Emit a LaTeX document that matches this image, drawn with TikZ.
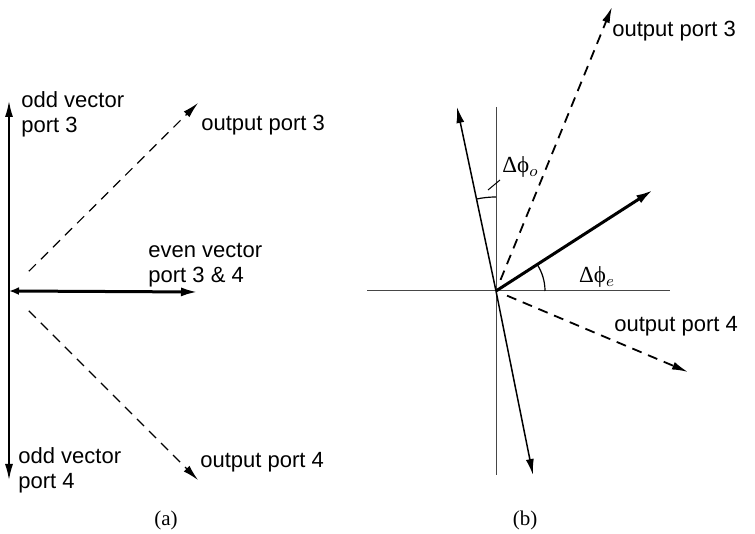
\documentclass[tikz,border=0pt]{standalone}
\usepackage{amsmath}
\usepackage{fontspec}
\setmainfont{Liberation Serif}
\setsansfont{Liberation Sans}
\usepackage{tikz}
\usetikzlibrary{arrows.meta,positioning,calc}
\definecolor{axisgray}{RGB}{70,70,70}

\begin{document}
\begin{tikzpicture}[
    x=0.5pt, y=0.5pt,
    vec/.style={line width=0.75pt, -{Latex[length=8pt,width=4pt]}},
    evenvec/.style={line width=1.5pt, -{Latex[length=8.5pt,width=4.5pt]}},
    outvec/.style={line width=0.6pt, dash pattern=on 5pt off 3.5pt, -{Latex[length=8pt,width=4pt]}},
    outvecb/.style={line width=0.9pt, dash pattern=on 5pt off 3.5pt, -{Latex[length=8pt,width=4pt]}},
    axis/.style={line width=0.5pt, draw=axisgray},
    lbl/.style={font=\sffamily\fontsize{11}{12.5}\selectfont, align=left, inner sep=0pt},
    anglbl/.style={font=\rmfamily\fontsize{11.5}{13}\selectfont, inner sep=1pt},
    captxt/.style={font=\fontsize{10.5}{12}\selectfont}
]
    \useasboundingbox (0,0) rectangle (755,534);

    % (a) even and odd vectors
    \coordinate (oa) at (9,243);
    \coordinate (oddA3) at (9,433);
    \coordinate (oddA4) at (9,54);
    \coordinate (evenA) at (198,242);
    \coordinate (outA3) at (198,431);
    \coordinate (outA4) at (198,54);

    \draw[vec] (oa) -- (oddA3);
    \draw[vec] (oa) -- (oddA4);
    \draw[evenvec, {Latex[length=5pt,width=4pt]}-{Latex[length=8.5pt,width=4.5pt]}] (oa) -- (evenA);
    \draw[outvec, shorten <=14pt] (oa) -- (outA3);
    \draw[outvec, shorten <=14pt] (oa) -- (outA4);

    \node[lbl, anchor=north west] (oddlbl3) at (21,443) {odd vector\\port 3};
    \node[lbl, anchor=north west] (oddlbl4) at (18,87) {odd vector\\port 4};
    \node[lbl, anchor=north west] (evenlbl) at (148,291) {even vector\\port 3 \& 4};
    \node[lbl, anchor=west] (outlblA3) at (201,409) {output port 3};
    \node[lbl, anchor=west] (outlblA4) at (200,72) {output port 4};
    \node[captxt] (capa) at (166,14) {(a)};

    % (b) phase shifted vectors
    \coordinate (ob) at (496,243);
    \coordinate (hl) at (367,243);
    \coordinate (hr) at (670,243);
    \coordinate (vt) at (496,427);
    \coordinate (vb) at (496,59);
    \coordinate (oddB3) at (457,427);
    \coordinate (oddB4) at (533,59);
    \coordinate (evenB) at (653,344);
    \coordinate (outB3) at (612,527);
    \coordinate (outB4) at (688,162);

    \draw[axis] (hl) -- (hr);
    \draw[axis] (vt) -- (vb);
    \draw[vec] (ob) -- (oddB3);
    \draw[vec] (ob) -- (oddB4);
    \draw[evenvec] (ob) -- (evenB);
    \draw[outvecb, shorten <=6pt] (ob) -- (outB3);
    \draw[outvecb, shorten <=6pt] (ob) -- (outB4);

    \draw[line width=0.6pt] ($(ob)+(49,0)$) arc[start angle=0, end angle=33, radius=49];
    \draw[line width=0.6pt] ($(ob)+(0,94)$) arc[start angle=90, end angle=102, radius=94];

    \coordinate (lead) at (488,344);
    \node[anglbl, anchor=south west] (dphio) at (500,354) {Δϕ$_{o}$};
    \draw[line width=0.5pt] (lead) -- (dphio.south west);
    \node[anglbl] (dphie) at (597,257) {Δϕ$_{e}$};

    \node[lbl, anchor=west] (outlblB3) at (612,503) {output port 3};
    \node[lbl, anchor=west] (outlblB4) at (614,208) {output port 4};
    \node[captxt] (capb) at (525,14) {(b)};
\end{tikzpicture}
\end{document}
